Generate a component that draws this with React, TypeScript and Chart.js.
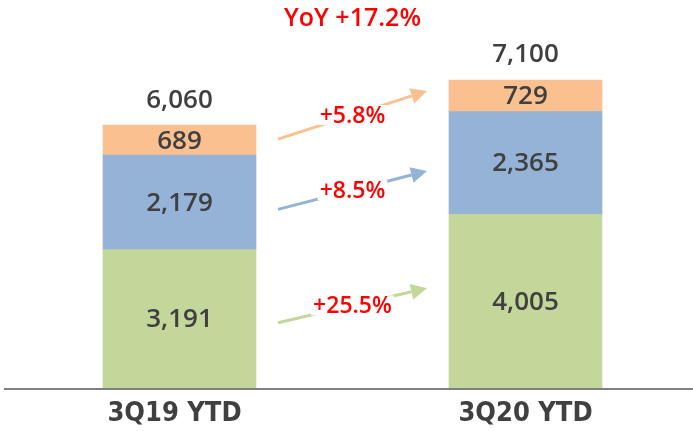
import React, { useEffect, useRef } from "react";
import { Chart, registerables } from "chart.js";

Chart.register(...registerables);

const categories = ["3Q19 YTD", "3Q20 YTD"];
const seriesNames = ["Green", "Blue", "Orange"];
const greenValues = [3191, 4005];
const blueValues = [2179, 2365];
const orangeValues = [689, 729];
const totals = [6060, 7100];
const growthLabels = ["+25.5%", "+8.5%", "+5.8%"];
const yoyLabel = "YoY +17.2%";

const colors = ["#C4D79B", "#95B3D7", "#FAC090"];
// per-arrow vertical offsets (px) relative to segment centers [start, end]
const arrowOffsets = [
  [4, -13],
  [7, 8],
  [-1, -5],
];

const fmt = (v: number) => v.toLocaleString("en-US");

const overlayPlugin = {
  id: "overlay",
  afterDatasetsDraw(chart: any) {
    const ctx = chart.ctx as CanvasRenderingContext2D;
    const yScale = chart.scales.y;
    const xScale = chart.scales.x;
    const area = chart.chartArea;
    const y0 = yScale.getPixelForValue(0);
    ctx.save();
    // axis line
    ctx.strokeStyle = "#808080";
    ctx.lineWidth = 2;
    ctx.beginPath();
    ctx.moveTo(4, y0 + 1);
    ctx.lineTo(693, y0 + 1);
    ctx.stroke();

    // category labels
    ctx.textAlign = "center";
    ctx.textBaseline = "middle";
    ctx.fillStyle = "#404040";
    ctx.font = "bold 27px 'DejaVu Sans Condensed', 'DejaVu Sans', sans-serif";
    categories.forEach((c, i) => {
      ctx.fillText(c, xScale.getPixelForValue(i) - (i === 0 ? 5 : 0), y0 + 26);
    });

    const numFont = "600 26px 'Open Sans', sans-serif";
    ctx.font = numFont;
    // segment labels
    const metas = [0, 1, 2].map((i) => chart.getDatasetMeta(i));
    metas.forEach((meta: any, di: number) => {
      meta.data.forEach((bar: any, ci: number) => {
        const v = chart.data.datasets[di].data[ci] as number;
        ctx.fillText(fmt(v), bar.x, (bar.y + bar.base) / 2 + 1);
      });
    });
    // totals
    metas[2].data.forEach((bar: any, ci: number) => {
      ctx.fillText(fmt(totals[ci]), bar.x, bar.y - 25);
    });

    // arrows
    const pctFont = "600 23px 'Open Sans', sans-serif";
    metas.forEach((meta: any, di: number) => {
      const b1 = meta.data[0];
      const b2 = meta.data[1];
      const x1 = b1.x + b1.width / 2 + 22;
      const x2 = b2.x - b2.width / 2 - 22;
      const y1 = (b1.y + b1.base) / 2 + arrowOffsets[di][0];
      const y2 = (b2.y + b2.base) / 2 + arrowOffsets[di][1];
      const ang = Math.atan2(y2 - y1, x2 - x1);
      const headLen = 16;
      const headW = 8;
      const lx = x2 - headLen * Math.cos(ang);
      const ly = y2 - headLen * Math.sin(ang);
      ctx.strokeStyle = colors[di];
      ctx.fillStyle = colors[di];
      ctx.lineWidth = 3;
      ctx.beginPath();
      ctx.moveTo(x1, y1);
      ctx.lineTo(lx, ly);
      ctx.stroke();
      ctx.beginPath();
      ctx.moveTo(x2, y2);
      ctx.lineTo(lx + headW * Math.sin(ang), ly - headW * Math.cos(ang));
      ctx.lineTo(lx - headW * Math.sin(ang), ly + headW * Math.cos(ang));
      ctx.closePath();
      ctx.fill();
      // label with white background
      const mx = (x1 + x2) / 2;
      const my = (y1 + y2) / 2;
      ctx.font = pctFont;
      const w = ctx.measureText(growthLabels[di]).width;
      ctx.fillStyle = "#ffffff";
      ctx.fillRect(mx - w / 2 - 2, my - 10, w + 4, 20);
      ctx.fillStyle = "#FF0000";
      ctx.fillText(growthLabels[di], mx, my + 1);
    });

    // YoY title
    ctx.font = "600 25px 'Open Sans', sans-serif";
    ctx.fillStyle = "#FF0000";
    ctx.fillText(yoyLabel, (area.left + area.right) / 2, 19);
    ctx.restore();
  },
};

export default function App() {
  const ref = useRef<HTMLCanvasElement | null>(null);
  useEffect(() => {
    document.body.style.margin = "0";
    const chart = new Chart(ref.current as HTMLCanvasElement, {
      type: "bar",
      data: {
        labels: categories,
        datasets: [greenValues, blueValues, orangeValues].map((d, i) => ({
          label: seriesNames[i],
          data: d,
          backgroundColor: colors[i],
          borderWidth: 0,
          stack: "s",
        })),
      },
      options: {
        animation: false,
        responsive: false,
        maintainAspectRatio: false,
        layout: { padding: { top: 41, left: 6.5, right: 1.5, bottom: 43 } },
        plugins: { legend: { display: false }, tooltip: { enabled: false } },
        scales: {
          x: { stacked: true, display: false },
          y: { stacked: true, display: false, min: 0, max: 8000 },
        },
        datasets: { bar: { barThickness: 153 } },
      } as any,
      plugins: [overlayPlugin],
    });
    return () => chart.destroy();
  }, []);
  return (
    <div style={{ position: "fixed", left: 0, top: 0, width: 693, height: 431, overflow: "hidden", background: "#fff" }}>
      <canvas ref={ref} width={700} height={431} style={{ width: 700, height: 431 }} />
    </div>
  );
}
